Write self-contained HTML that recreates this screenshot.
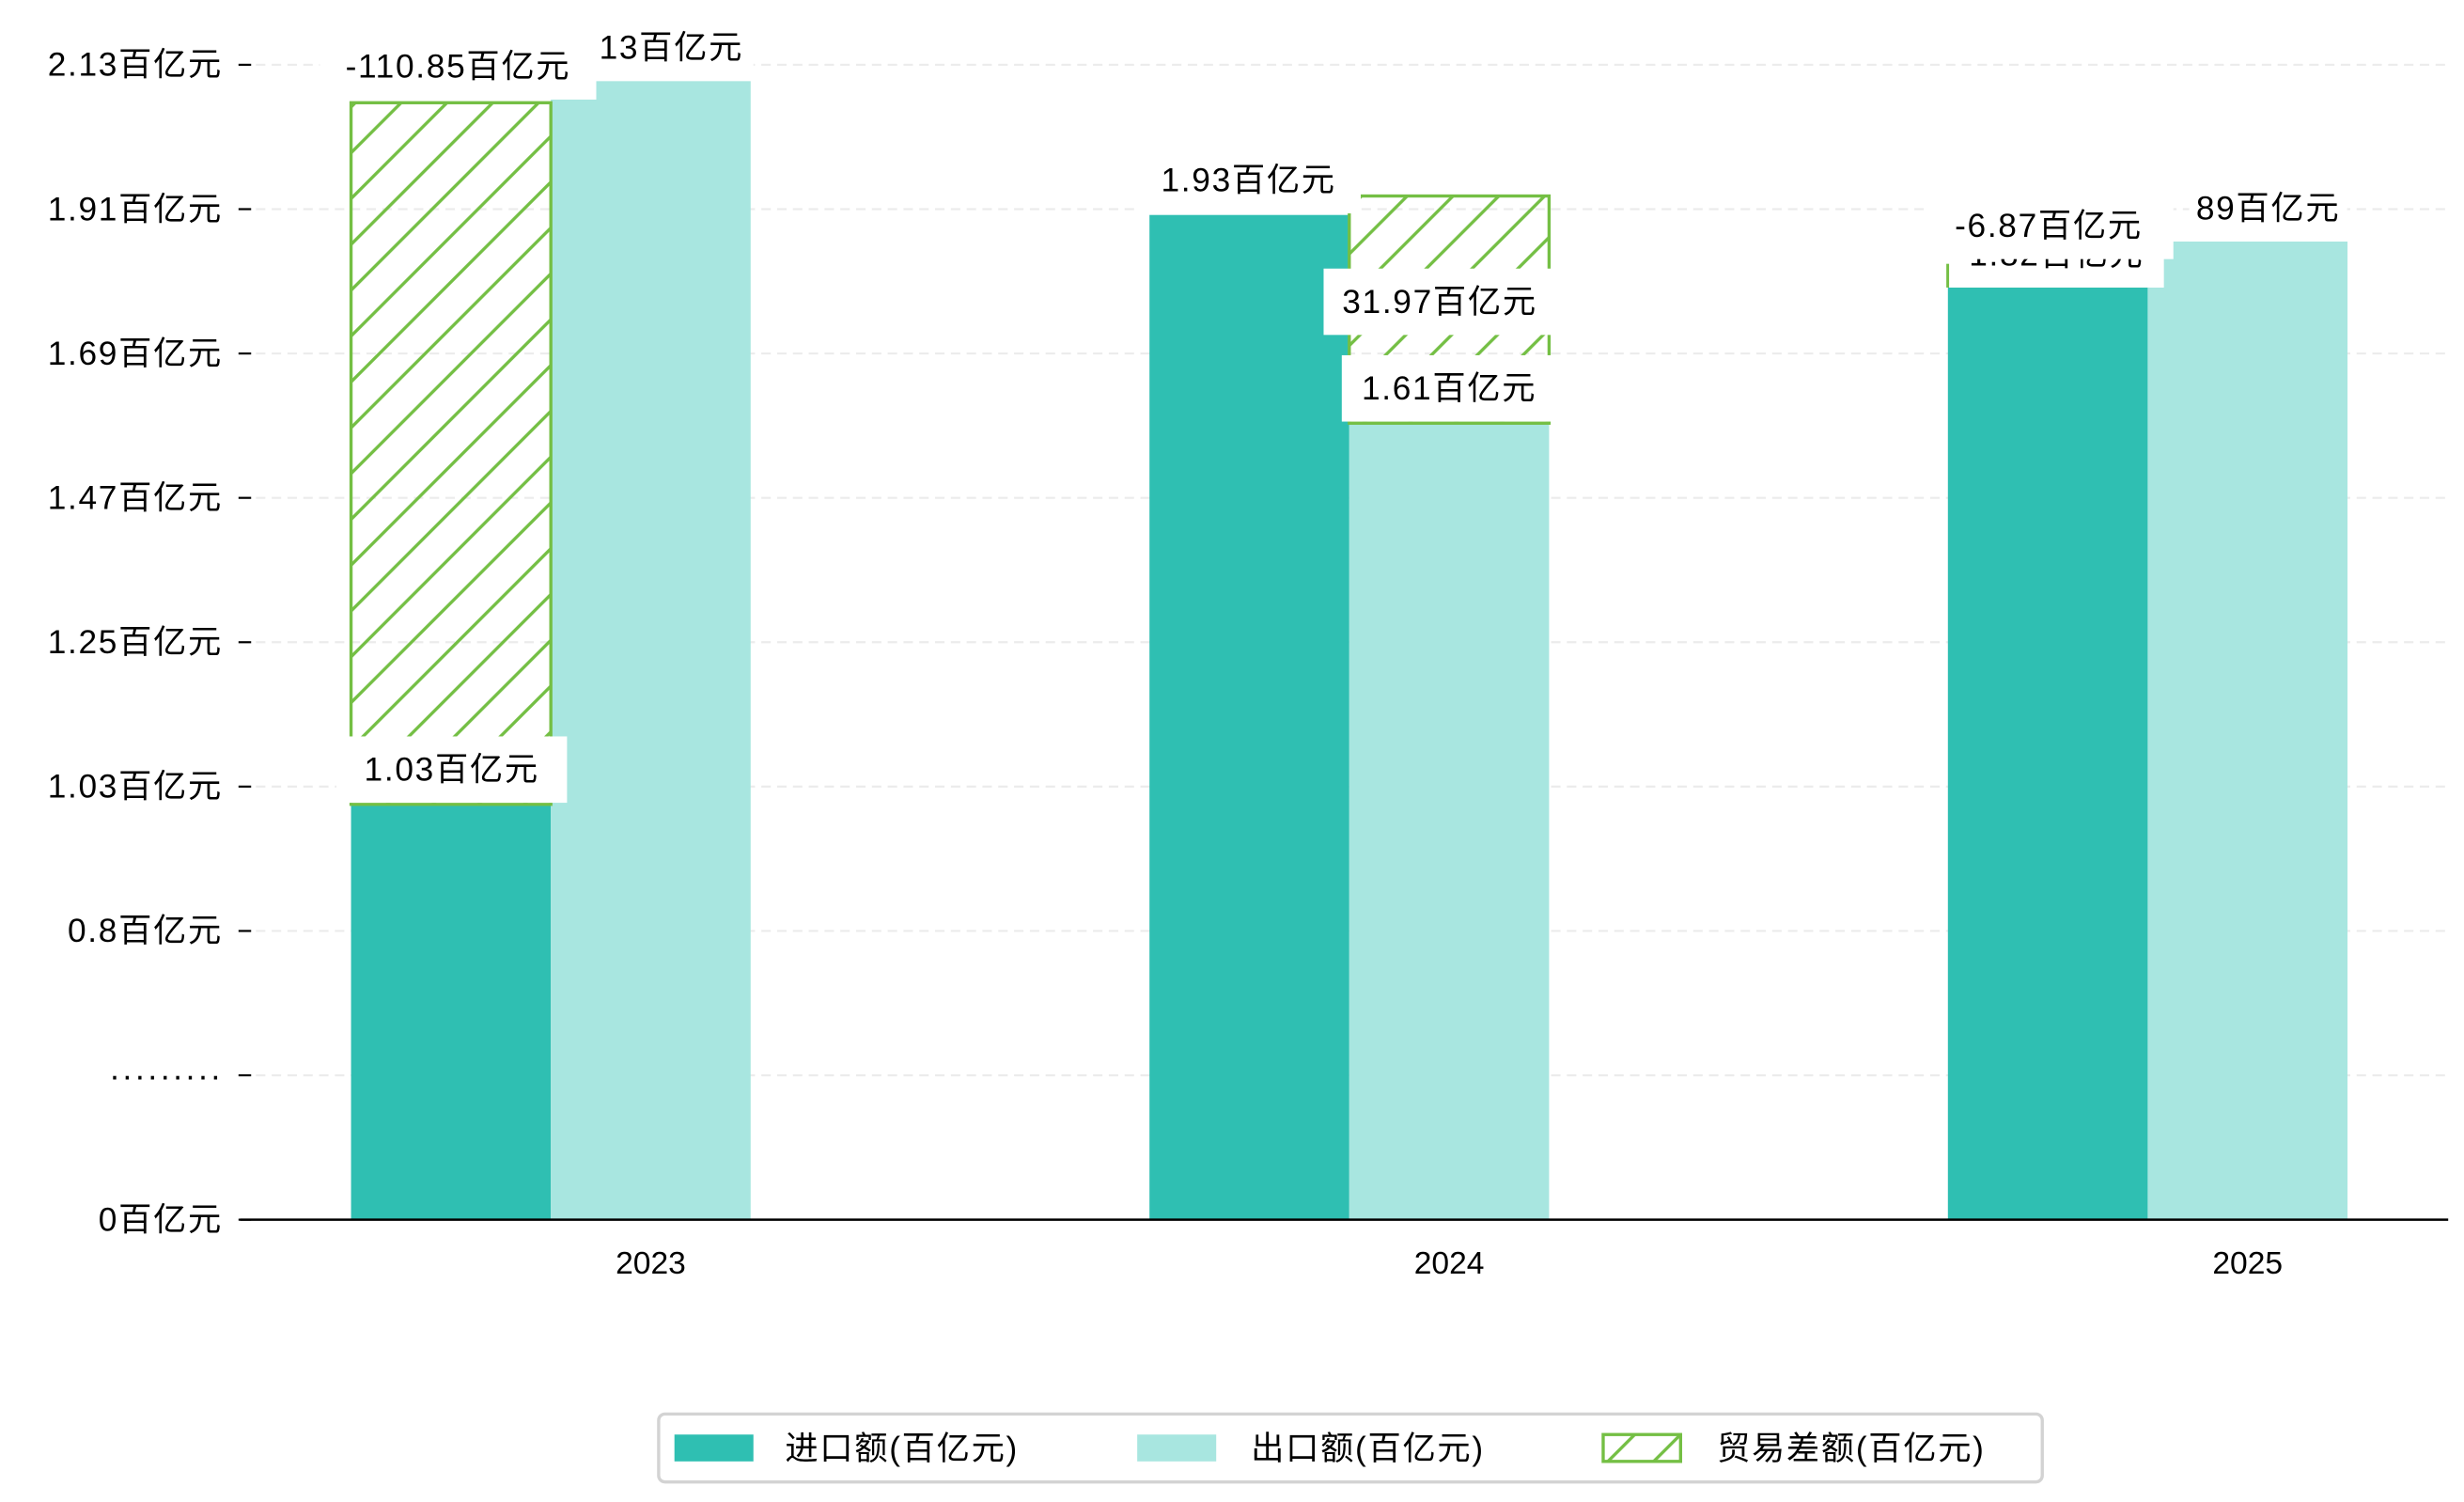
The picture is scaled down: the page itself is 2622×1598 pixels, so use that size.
<!DOCTYPE html>
<html><head><meta charset="utf-8"><style>
html,body{margin:0;padding:0;background:#fff;}
svg{display:block;font-family:"WenQuanYi Zen Hei","Liberation Sans","Noto Sans CJK SC",sans-serif;}
</style></head><body>
<svg id="chart" width="2622" height="1598" viewBox="0 0 1560 950.7" preserveAspectRatio="none" xmlns="http://www.w3.org/2000/svg">
<defs>
<pattern id="hatch" patternUnits="userSpaceOnUse" width="29" height="29">
<path d="M-2,31 L31,-2 M-16,16 L16,-16 M13,45 L45,13" stroke="#74bf44" stroke-width="2"/>
</pattern>
</defs>
<g id="grid"></g>
<g id="bars"></g>
<g id="labels"></g>
<g id="axes"></g>
<g id="legend">
<rect x="417" y="895" width="876" height="43" rx="4" fill="#fff" stroke="#d3d3d3" stroke-width="2"/>
<rect x="427" y="908" width="50" height="17" fill="#2fbfb2"/>
<text x="497" y="924" font-size="21" letter-spacing="1">进口额(百亿元)</text>
<rect x="720" y="908" width="50" height="17" fill="#a8e6e0"/>
<text x="792" y="924" font-size="21" letter-spacing="1">出口额(百亿元)</text>
<rect x="1015" y="908" width="49" height="17" fill="url(#hatch)" stroke="#74bf44" stroke-width="2"/>
<text x="1087" y="924" font-size="21" letter-spacing="1">贸易差额(百亿元)</text>
</g>
</svg>
<script>
const categories = ["2023","2024","2025"];
const importVals = [0.766, 1.853, 1.722];
const exportVals = [2.10, 1.469, 1.804];
const balanceTop = [2.06, 1.888, 1.76];
const balanceSlot = ["import","export","import"];
const tickLabels = ["0百亿元","·········","0.8百亿元","1.03百亿元","1.25百亿元","1.47百亿元","1.69百亿元","1.91百亿元","2.13百亿元"];
const importLabels = ["1.03百亿元","1.93百亿元","1.82百亿元"];
const exportLabels = ["13百亿元","1.61百亿元","89百亿元"];
const balanceLabels = ["-110.85百亿元","31.97百亿元","-6.87百亿元"];

const NS="http://www.w3.org/2000/svg";
const X0=152,X1=1550,Y0=772,YT=41,YMAX=2.13;
const y=v=>Y0-v/YMAX*(Y0-YT);
const cx=i=>412+i*505.5;
const BW=126.5;
function mk(tag,attrs,parent){const e=document.createElementNS(NS,tag);for(const k in attrs)e.setAttribute(k,attrs[k]);parent.appendChild(e);return e;}
const grid=document.getElementById('grid'),bars=document.getElementById('bars'),labels=document.getElementById('labels'),axes=document.getElementById('axes');
tickLabels.forEach((t,i)=>{
  const ty=y(i*YMAX/8);
  if(i>0){const g=mk('line',{x1:X0,x2:X1,y1:ty,y2:ty,stroke:'#ececec','stroke-width':1.3,'stroke-dasharray':'6,4'},grid);
  
  }
  const tk=mk('line',{x1:151,x2:159,y1:ty,y2:ty,stroke:'#000','stroke-width':1.3},axes);
  
  
  const tl=mk('text',{x:141,y:ty+7,'text-anchor':'end','font-size':21,'letter-spacing':1},axes);
  tl.textContent=t;
  
  
});
const base=mk('line',{x1:X0,x2:X1,y1:Y0,y2:Y0,stroke:'#000','stroke-width':1.5},axes);


function labelBox(txt,xc,yc,w,name){
  const r=mk('rect',{x:xc-w/2,y:yc-21,width:w,height:42,fill:'#fff'},labels);
  
  
  const t=mk('text',{x:xc,y:yc+7,'text-anchor':'middle','font-size':21,'letter-spacing':1},labels);
  t.textContent=txt;
  
  
}
categories.forEach((c,i)=>{
  const xi=cx(i)-BW*1.5, xe=cx(i)-BW*0.5;
  const b1=mk('rect',{x:xi,y:y(importVals[i]),width:BW,height:Y0-y(importVals[i]),fill:'#2fbfb2'},bars);
  
  
  const b2=mk('rect',{x:xe,y:y(exportVals[i]),width:BW,height:Y0-y(exportVals[i]),fill:'#a8e6e0'},bars);
  
  
  const bx=balanceSlot[i]==='import'?xi:xe;
  const bb=balanceSlot[i]==='import'?importVals[i]:exportVals[i];
  const lo=Math.min(bb,balanceTop[i]),hi=Math.max(bb,balanceTop[i]);
  const b3=mk('rect',{x:bx,y:y(hi),width:BW,height:y(lo)-y(hi),fill:'url(#hatch)',stroke:'#74bf44','stroke-width':2},bars);
  
  
  const xl=mk('text',{x:cx(i),y:806,'text-anchor':'middle','font-size':20},axes);
  xl.textContent=c;
  
  
});
labelBox(importLabels[0],cx(0)-126,y(importVals[0])-22,146,'label-import-2023');
labelBox(exportLabels[0],cx(0)+13,y(exportVals[0])-21,104,'label-export-2023');
labelBox(balanceLabels[0],cx(0)-122,y(balanceTop[0])-23,175,'label-balance-2023');
labelBox(importLabels[1],cx(1)-127,y(importVals[1])-22,142,'label-import-2024');
labelBox(exportLabels[1],cx(1)+0,y(exportVals[1])-22,136,'label-export-2024');
labelBox(balanceLabels[1],cx(1)-6,191,147,'label-balance-2024');
labelBox(importLabels[2],cx(2)-121,y(importVals[2])-20,136,'label-import-2025');
labelBox(exportLabels[2],cx(2)+13,y(exportVals[2])-21,100,'label-export-2025');
labelBox(balanceLabels[2],cx(2)-126,143,158,'label-balance-2025');
</script>
</body></html>
